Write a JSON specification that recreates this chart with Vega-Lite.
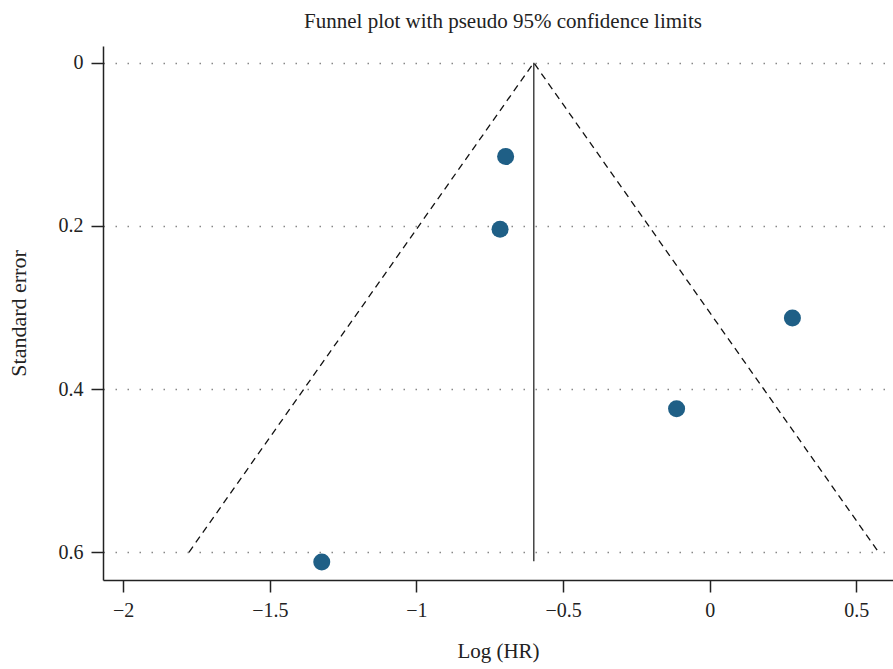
{
  "$schema": "https://vega.github.io/schema/vega-lite/v6.json",
  "autosize": "none",
  "width": 790,
  "height": 534,
  "padding": {"left": 103, "top": 46, "right": 0, "bottom": 89},
  "background": "white",
  "config": {
    "view": {"stroke": null},
    "font": "Liberation Serif"
  },
  "title": {
    "text": "Funnel plot with pseudo 95% confidence limits",
    "font": "Liberation Serif",
    "fontSize": 21,
    "fontWeight": "normal",
    "color": "#222",
    "offset": 14,
    "dx": 5
  },
  "datasets": {
    "studies": [
      {"loghr": -0.696, "se": 0.115},
      {"loghr": -0.715, "se": 0.204},
      {"loghr": 0.282, "se": 0.313},
      {"loghr": -0.113, "se": 0.424},
      {"loghr": -1.323, "se": 0.612}
    ],
    "funnel": [
      {"ord": 1, "loghr": -1.776, "se": 0.6},
      {"ord": 2, "loghr": -0.6, "se": 0.0},
      {"ord": 3, "loghr": 0.576, "se": 0.6}
    ],
    "pooled": [
      {"loghr": -0.6, "se0": 0.0, "se1": 0.611}
    ]
  },
  "layer": [
    {
      "data": {"name": "pooled"},
      "mark": {"type": "rule", "color": "#444", "strokeWidth": 1.5},
      "encoding": {
        "x": {
          "field": "loghr", "type": "quantitative",
          "scale": {"domain": [-2.069, 0.625], "nice": false, "zero": false},
          "axis": {
            "title": "Log (HR)",
            "values": [-2, -1.5, -1, -0.5, 0, 0.5],
            "format": "~g",
            "grid": false,
            "domainColor": "#222",
            "domainWidth": 1.5,
            "tickColor": "#222",
            "tickWidth": 1.5,
            "tickSize": 12,
            "labelFont": "Liberation Serif",
            "labelFontSize": 20,
            "labelColor": "#222",
            "labelPadding": 8,
            "titleFont": "Liberation Serif",
            "titleFontSize": 21,
            "titleFontWeight": "normal",
            "titleColor": "#222",
            "titlePadding": 20
          }
        },
        "y": {
          "field": "se0", "type": "quantitative",
          "scale": {"domain": [-0.0205, 0.634], "reverse": true, "nice": false, "zero": false},
          "axis": {
            "title": "Standard error",
            "values": [0, 0.2, 0.4, 0.6],
            "format": "~g",
            "grid": true,
            "gridColor": "#888",
            "gridDash": [1.5, 10.5],
            "gridWidth": 1.5,
            "domainColor": "#222",
            "domainWidth": 1.5,
            "tickColor": "#222",
            "tickWidth": 1.5,
            "tickSize": 12,
            "labelFont": "Liberation Serif",
            "labelFontSize": 20,
            "labelColor": "#222",
            "labelPadding": 8,
            "titleFont": "Liberation Serif",
            "titleFontSize": 22,
            "titleFontWeight": "normal",
            "titleColor": "#222",
            "titlePadding": 28
          }
        },
        "y2": {"field": "se1"}
      }
    },
    {
      "data": {"name": "funnel"},
      "mark": {"type": "line", "color": "#111", "strokeWidth": 1.3, "strokeDash": [7, 5]},
      "encoding": {
        "x": {"field": "loghr", "type": "quantitative"},
        "y": {"field": "se", "type": "quantitative"},
        "order": {"field": "ord", "type": "quantitative"}
      }
    },
    {
      "data": {"name": "studies"},
      "mark": {"type": "circle", "color": "#1f5f86", "opacity": 1, "size": 290},
      "encoding": {
        "x": {"field": "loghr", "type": "quantitative"},
        "y": {"field": "se", "type": "quantitative"}
      }
    }
  ]
}
